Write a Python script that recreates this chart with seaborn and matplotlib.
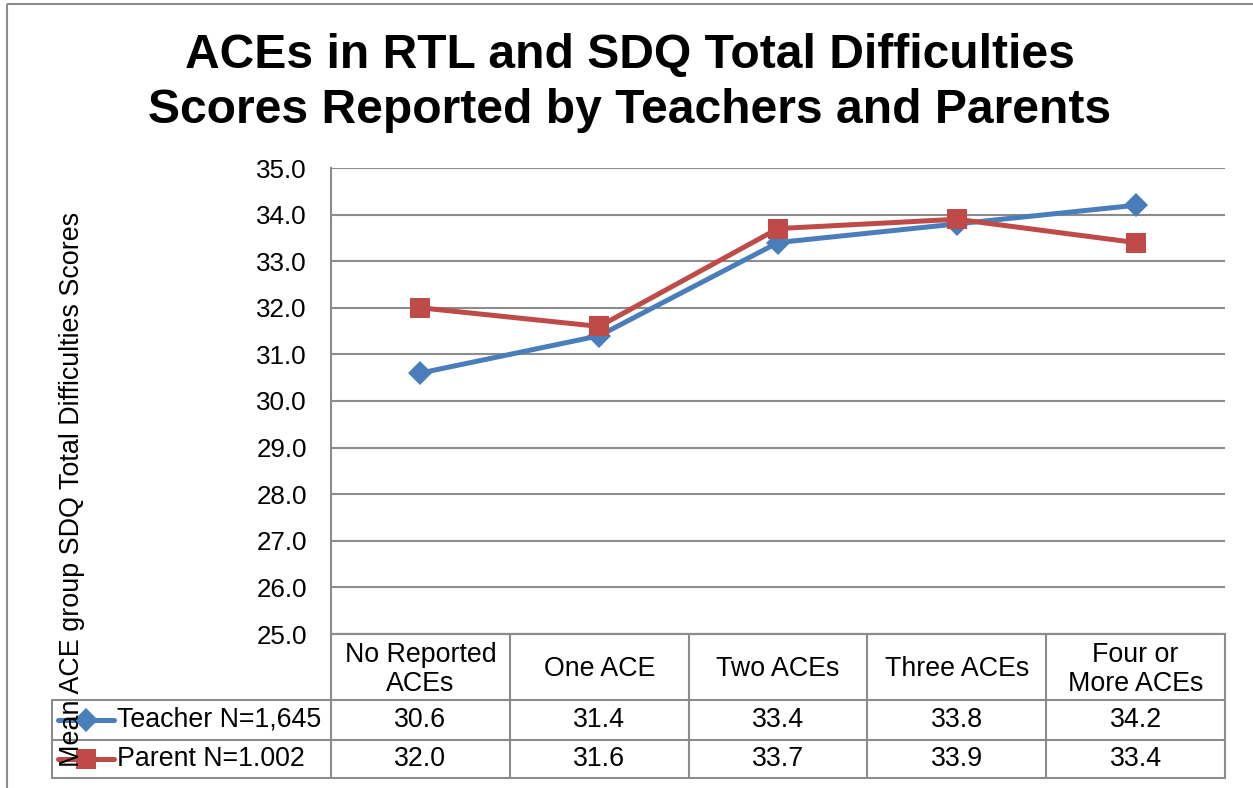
import matplotlib
matplotlib.use("Agg")
import matplotlib.pyplot as plt
import matplotlib.transforms as mtransforms
from matplotlib.patches import Rectangle
import pandas as pd
import seaborn as sns

categories = ["No Reported\nACEs", "One ACE", "Two ACEs", "Three ACEs", "Four or\nMore ACEs"]
teacher = [30.6, 31.4, 33.4, 33.8, 34.2]
parent = [32.0, 31.6, 33.7, 33.9, 33.4]
series_names = ["Teacher N=1,645", "Parent N=1.002"]
yticks = [25.0, 26.0, 27.0, 28.0, 29.0, 30.0, 31.0, 32.0, 33.0, 34.0, 35.0]
title = "ACEs in RTL and SDQ Total Difficulties\nScores Reported by Teachers and Parents"
ylabel = "Mean ACE group SDQ Total Difficulties Scores"

sns.set_theme(style="white")
plt.rcParams["font.family"] = ["Liberation Sans", "DejaVu Sans"]

W, H = 1253, 788
fig = plt.figure(figsize=(W / 100, H / 100), dpi=100)
fig.patch.set_facecolor("white")

# overlay in pixel coords
ov = fig.add_axes([0, 0, 1, 1])
ov.set_xlim(0, W)
ov.set_ylim(H, 0)
ov.axis("off")
ov.set_zorder(0)

L, R, T, B = 331, 1225, 168, 634
ax = fig.add_axes([L / W, 1 - B / H, (R - L) / W, (B - T) / H])
ax.set_zorder(2)
ax.patch.set_alpha(0)

colors = ["#4A7EBB", "#BE4B48"]
ms_d, ms_s = 12, 15
df = pd.DataFrame({
    "pos": list(range(len(categories))) * 2,
    "value": teacher + parent,
    "series": [series_names[0]] * len(categories) + [series_names[1]] * len(categories),
})

sns.lineplot(data=df, x="pos", y="value", hue="series", style="series",
             markers={series_names[0]: "D", series_names[1]: "s"}, dashes=False,
             palette=dict(zip(series_names, colors)), linewidth=3.6,
             markersize=13, markeredgewidth=0, legend=False, ax=ax, sort=False)
for line in ax.get_lines():
    if line.get_marker() == "D":
        line.set_markersize(ms_d)
    elif line.get_marker() == "s":
        line.set_markersize(ms_s)

ax.set_xlim(-0.5, len(categories) - 0.5)
ax.set_ylim(yticks[0], yticks[-1])
ax.set_yticks(yticks)
ax.set_yticklabels([f"{v:.1f}" for v in yticks], fontsize=18.7, color="black")
ax.tick_params(axis="y", length=0, pad=17.3)
ax.set_xticks([])
ax.set_xlabel("")
ax.set_ylabel("")
ax.yaxis.grid(True, color="#8C8C8C", linewidth=1.5)
ax.set_axisbelow(True)
for s in ["top", "right"]:
    ax.spines[s].set_visible(False)
for s in ["left", "bottom"]:
    ax.spines[s].set_color("#8C8C8C")
    ax.spines[s].set_linewidth(1.5)

# outer chart border
ov.add_patch(Rectangle((7, 4), W + 20, H + 20, fill=False, edgecolor="#8C8C8C", linewidth=1.5))

# title
ov.text(630, 83, title, ha="center", va="center", fontsize=34.6, fontweight="bold",
        linespacing=1.28, color="black")
# y label
ov.text(72, 489, ylabel, rotation=90, ha="center", va="center", fontsize=19.4, color="black")

# data table (x in data coords of ax, y in pixels)
bt = mtransforms.blended_transform_factory(ax.transData, ov.transData)
gc = "#8C8C8C"
lw = 1.5
n = len(categories)
y_head_top, y_r1, y_r2, y_bot = 634, 700, 740, 778
x_left_px = 52
fs_tab = 19.3
ov.plot([L, R], [y_head_top, y_head_top], color=gc, lw=lw)
for yy in [y_r1, y_r2, y_bot]:
    ov.plot([x_left_px, R], [yy, yy], color=gc, lw=lw)
ov.plot([x_left_px, x_left_px], [y_r1, y_bot], color=gc, lw=lw)
for i in range(n + 1):
    ov.plot([i - 0.5, i - 0.5], [y_head_top, y_bot], color=gc, lw=lw, transform=bt)
for i, c in enumerate(categories):
    ov.text(i, 669.5, c, ha="center", va="center", fontsize=fs_tab, linespacing=1.15,
            transform=bt, color="black")
    ov.text(i, 720, f"{teacher[i]:.1f}", ha="center", va="center", fontsize=fs_tab,
            transform=bt, color="black")
    ov.text(i, 759, f"{parent[i]:.1f}", ha="center", va="center", fontsize=fs_tab,
            transform=bt, color="black")

# legend keys in table
for (yy, name, col, mk, ms) in [(720, series_names[0], colors[0], "D", ms_d),
                                 (759, series_names[1], colors[1], "s", ms_s)]:
    ov.plot([58, 114], [yy, yy], color=col, lw=3.6, solid_capstyle="round")
    ov.plot([86], [yy], marker=mk, color=col, markersize=ms, markeredgewidth=0)
    ov.text(117, yy, name, ha="left", va="center", fontsize=fs_tab, color="black")

fig.savefig("out.png", dpi=100, facecolor="white")
